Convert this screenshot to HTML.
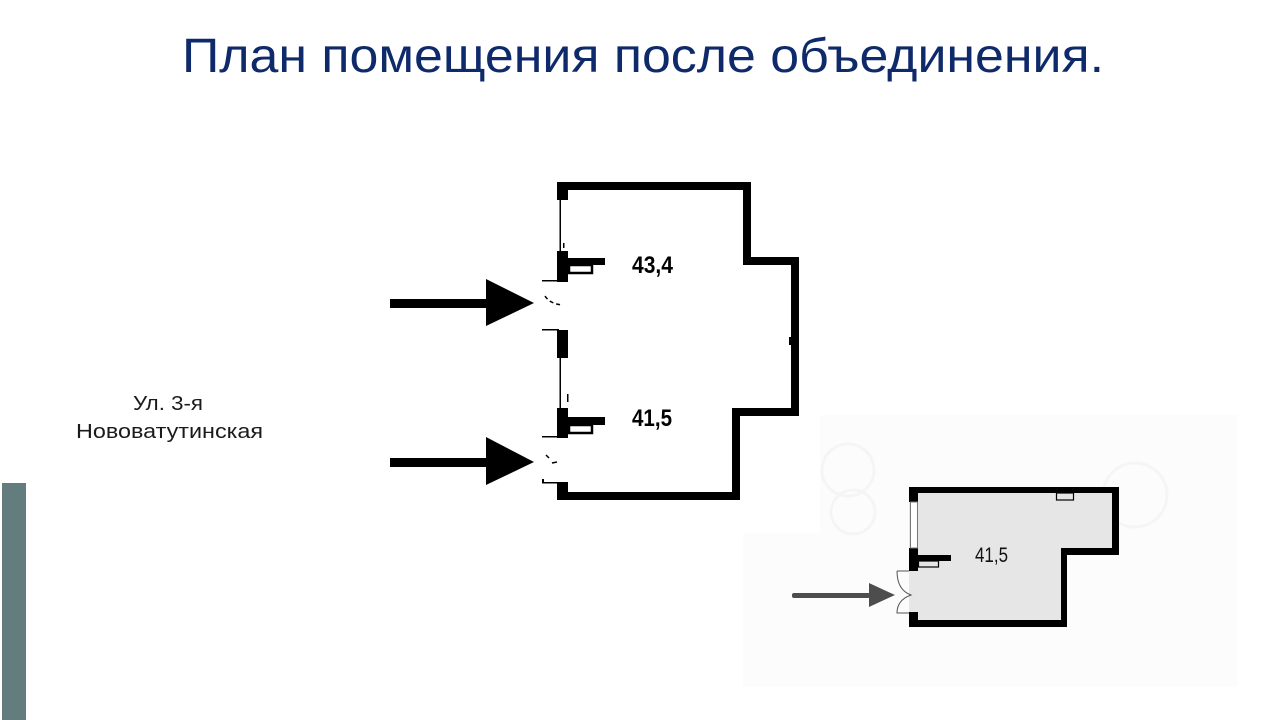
<!DOCTYPE html>
<html>
<head>
<meta charset="utf-8">
<style>
html,body{margin:0;padding:0;background:#fff;}
body{width:1280px;height:720px;overflow:hidden;}
svg{display:block;}
</style>
</head>
<body>
<svg width="1280" height="720" viewBox="0 0 1280 720" xmlns="http://www.w3.org/2000/svg">
  <rect x="0" y="0" width="1280" height="720" fill="#ffffff"/>

  <!-- Title -->
  <text x="182" y="72" font-family="'Liberation Sans','Noto Sans CJK SC',sans-serif" font-size="48" fill="#0f2a6b" textLength="922" lengthAdjust="spacingAndGlyphs">План помещения после объединения.</text>

  <!-- Left accent bar -->
  <rect x="2" y="483" width="24" height="237" fill="#637d7e"/>

  <!-- Street label -->
  <text x="133" y="410" font-family="'Liberation Sans',sans-serif" font-size="20" fill="#1a1a1a" textLength="70" lengthAdjust="spacingAndGlyphs">Ул. 3-я</text>
  <text x="76" y="438" font-family="'Liberation Sans',sans-serif" font-size="20" fill="#1a1a1a" textLength="187" lengthAdjust="spacingAndGlyphs">Нововатутинская</text>

  <!-- ===== Main plan ===== -->
  <g fill="#000">
    <rect x="557" y="182" width="194" height="8"/>
    <rect x="557" y="182" width="11" height="18"/>
    <rect x="743" y="182" width="8" height="83"/>
    <rect x="743" y="257" width="56" height="8"/>
    <rect x="791" y="257" width="8" height="159"/>
    <rect x="789" y="337" width="4" height="8"/>
    <rect x="732" y="408" width="67" height="8"/>
    <rect x="732" y="408" width="8" height="92"/>
    <rect x="557" y="492" width="183" height="8"/>
    <rect x="557" y="482" width="11" height="18"/>

    <rect x="559.5" y="200" width="1.5" height="51"/>
    <rect x="559.5" y="357" width="1.5" height="51"/>

    <rect x="557" y="251" width="11" height="31"/>
    <rect x="568" y="258" width="37" height="7"/>
    <rect x="557" y="330" width="11" height="28"/>
    <rect x="557" y="408" width="11" height="30"/>
    <rect x="568" y="417" width="37" height="8"/>

    <rect x="542" y="280" width="17" height="1.5"/>
    <rect x="542" y="329" width="17" height="1.5"/>
    <rect x="542" y="436" width="17" height="1.5"/>
    <rect x="542" y="479" width="2" height="4"/>
    <rect x="542" y="482" width="17" height="1.5"/>
  </g>
  <rect x="569" y="265" width="23" height="8" fill="none" stroke="#000" stroke-width="2.5"/>
  <rect x="569" y="425" width="23" height="8" fill="none" stroke="#000" stroke-width="2.5"/>

  <path d="M545,296 Q550,304 563,305" fill="none" stroke="#000" stroke-width="1.5" stroke-dasharray="4 3"/>
  <path d="M546,455 L549,458 M552,463 L557,462" fill="none" stroke="#000" stroke-width="1.5"/>
  <rect x="563" y="243" width="1.5" height="5" fill="#000"/>
  <rect x="567" y="394" width="1.5" height="8" fill="#000"/>

  <text x="632" y="273" font-family="'Liberation Sans',sans-serif" font-weight="bold" font-size="24" fill="#000" textLength="41" lengthAdjust="spacingAndGlyphs">43,4</text>
  <text x="632" y="426" font-family="'Liberation Sans',sans-serif" font-weight="bold" font-size="24" fill="#000" textLength="40" lengthAdjust="spacingAndGlyphs">41,5</text>

  <rect x="390" y="299" width="98" height="9" fill="#000"/>
  <polygon points="486,279 534,303 486,326" fill="#000"/>
  <rect x="390" y="458" width="98" height="9" fill="#000"/>
  <polygon points="486,437 534,462 486,485" fill="#000"/>

  <!-- ===== Inset plan (right) ===== -->
  <path d="M820,415 H1237 V687 H743 V533 H820 Z" fill="#fcfcfc"/>
  <g fill="none" stroke="#f5f5f5" stroke-width="3">
    <circle cx="848" cy="470" r="26"/>
    <circle cx="853" cy="512" r="22"/>
    <circle cx="1135" cy="495" r="32"/>
  </g>

  <path d="M909,487 H1119 V555 H1067 V627 H909 Z" fill="#e6e6e6"/>
  <g fill="#000">
    <rect x="909" y="487" width="210" height="6"/>
    <rect x="1112" y="487" width="7" height="68"/>
    <rect x="1061" y="548" width="58" height="7"/>
    <rect x="1061" y="548" width="6" height="79"/>
    <rect x="909" y="620" width="158" height="7"/>
    <rect x="909" y="487" width="9" height="15"/>
    <rect x="909" y="548" width="9" height="23"/>
    <rect x="918" y="555" width="33" height="6"/>
    <rect x="909" y="612" width="9" height="15"/>
  </g>
  <rect x="910.5" y="502" width="7" height="46" fill="#ffffff" stroke="#777" stroke-width="1"/>
  <rect x="918.5" y="561" width="20" height="6" fill="#e6e6e6" stroke="#000" stroke-width="1.2"/>
  <rect x="1056.5" y="493" width="17" height="7" fill="none" stroke="#000" stroke-width="1.2"/>
  <path d="M897,571 H909 M897,571 Q897,590 911,595 Q897,600 897,613 H909" fill="none" stroke="#555" stroke-width="1"/>

  <text x="975" y="562" font-family="'Liberation Sans',sans-serif" font-size="21" fill="#111" textLength="33" lengthAdjust="spacingAndGlyphs">41,5</text>

  <rect x="792" y="593" width="78" height="5" rx="2" fill="#4d4d4d"/>
  <polygon points="869,583 895,595 869,607" fill="#4d4d4d"/>
</svg>
</body>
</html>
